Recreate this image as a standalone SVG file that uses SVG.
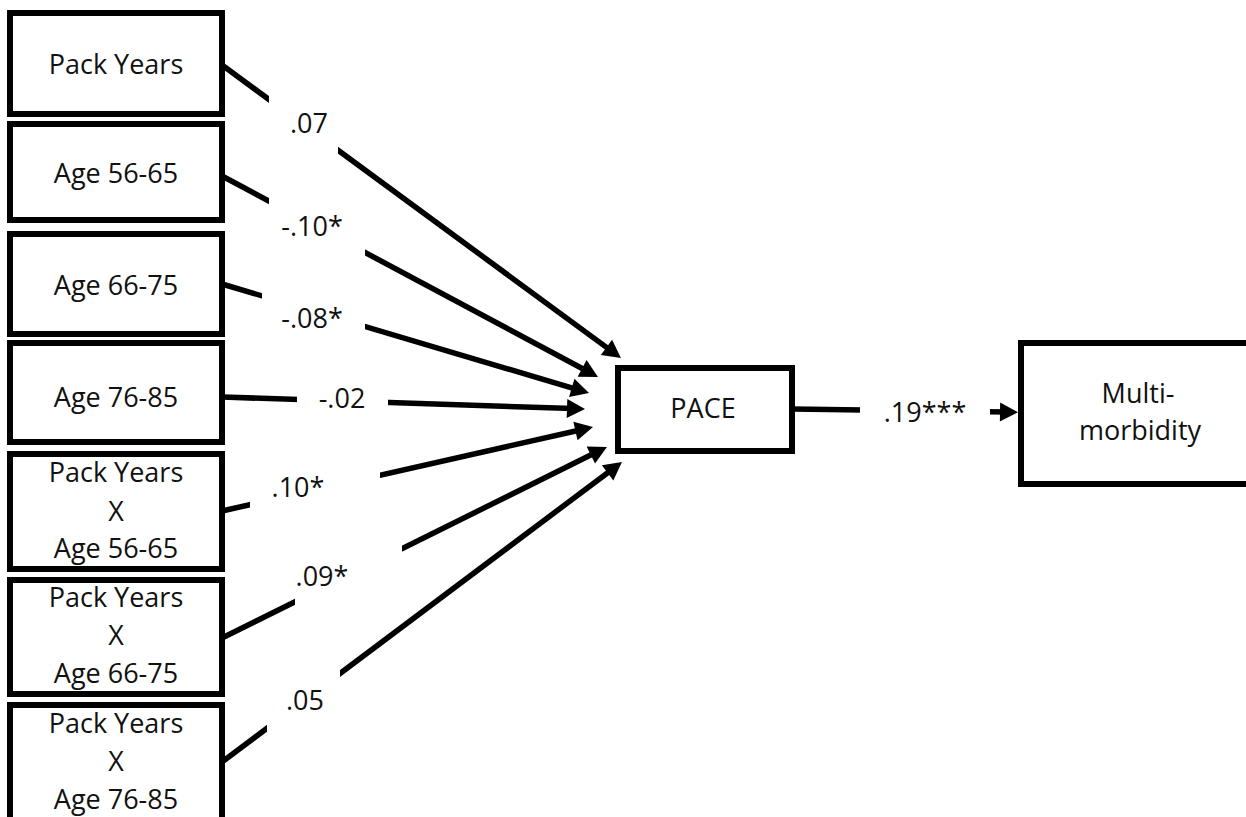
<svg xmlns="http://www.w3.org/2000/svg" width="1246" height="817" viewBox="0 0 1246 817">
<style>
.box{fill:#fff;stroke:#000;stroke-width:6}
.t{font-family:"Open Sans","Liberation Sans",sans-serif;font-size:27px;fill:#111;text-anchor:middle}
.c{stroke:#000;stroke-width:5.5;fill:none;marker-end:url(#ah)}
.gap{fill:#fff;stroke:none}
</style>
<defs>
<marker id="ah" markerUnits="userSpaceOnUse" markerWidth="18" markerHeight="19" refX="6" refY="9.5" orient="auto" overflow="visible">
<path d="M0,0 L18,9.5 L0,19 z" fill="#000"/>
</marker>
</defs>
<rect width="1246" height="817" fill="#fff"/>
<g id="connectors">
<line class="c" x1="222" y1="65" x2="611.3" y2="350.9"/>
<line class="c" x1="222" y1="176" x2="587.4" y2="371.3"/>
<line class="c" x1="222" y1="284" x2="577.5" y2="389.6"/>
<line class="c" x1="222" y1="397" x2="573" y2="408.6"/>
<line class="c" x1="222" y1="511" x2="581.3" y2="429.7"/>
<line class="c" x1="222" y1="638" x2="596.2" y2="452.3"/>
<line class="c" x1="222" y1="762" x2="612.4" y2="469.2"/>
<line class="c" x1="792" y1="409" x2="1006" y2="412"/>
<rect class="gap" x="269" y="92" width="69" height="65"/>
<rect class="gap" x="269" y="196" width="96" height="62"/>
<rect class="gap" x="262" y="290" width="103" height="42"/>
<rect class="gap" x="297" y="393" width="91" height="16"/>
<rect class="gap" x="250" y="470" width="130" height="40"/>
<rect class="gap" x="295" y="543" width="107" height="65"/>
<rect class="gap" x="267" y="667" width="73" height="67"/>
<rect class="gap" x="860" y="400" width="130" height="22"/>
<text class="t" x="309" y="133">.07</text>
<text class="t" x="312" y="236">-.10*</text>
<text class="t" x="312" y="328">-.08*</text>
<text class="t" x="342" y="408">-.02</text>
<text class="t" x="298" y="497">.10*</text>
<text class="t" x="322" y="586">.09*</text>
<text class="t" x="305" y="710">.05</text>
<text class="t" x="925" y="422">.19***</text>
</g>
<g id="pack-years"><rect class="box" x="10" y="13" width="212" height="101"/><text class="t" x="116" y="74">Pack Years</text></g>
<g id="age-56-65"><rect class="box" x="10" y="124" width="212" height="96"/><text class="t" x="116" y="183">Age 56-65</text></g>
<g id="age-66-75"><rect class="box" x="10" y="234" width="212" height="100"/><text class="t" x="116" y="295">Age 66-75</text></g>
<g id="age-76-85"><rect class="box" x="10" y="343" width="212" height="99"/><text class="t" x="116" y="407">Age 76-85</text></g>
<g id="py-x-56-65"><rect class="box" x="10" y="454" width="212" height="115"/><text class="t" x="116" y="482">Pack Years</text><text class="t" x="116" y="521">X</text><text class="t" x="116" y="558">Age 56-65</text></g>
<g id="py-x-66-75"><rect class="box" x="10" y="580" width="212" height="114"/><text class="t" x="116" y="607">Pack Years</text><text class="t" x="116" y="645">X</text><text class="t" x="116" y="683">Age 66-75</text></g>
<g id="py-x-76-85"><rect class="box" x="10" y="705" width="212" height="130"/><text class="t" x="116" y="733">Pack Years</text><text class="t" x="116" y="771">X</text><text class="t" x="116" y="809">Age 76-85</text></g>
<g id="pace"><rect class="box" x="618" y="368" width="174" height="83"/><text class="t" x="703" y="418">PACE</text></g>
<g id="multimorbidity"><rect class="box" x="1021" y="343" width="240" height="141"/><text class="t" x="1138" y="403">Multi-</text><text class="t" x="1140" y="440">morbidity</text></g>
</svg>
